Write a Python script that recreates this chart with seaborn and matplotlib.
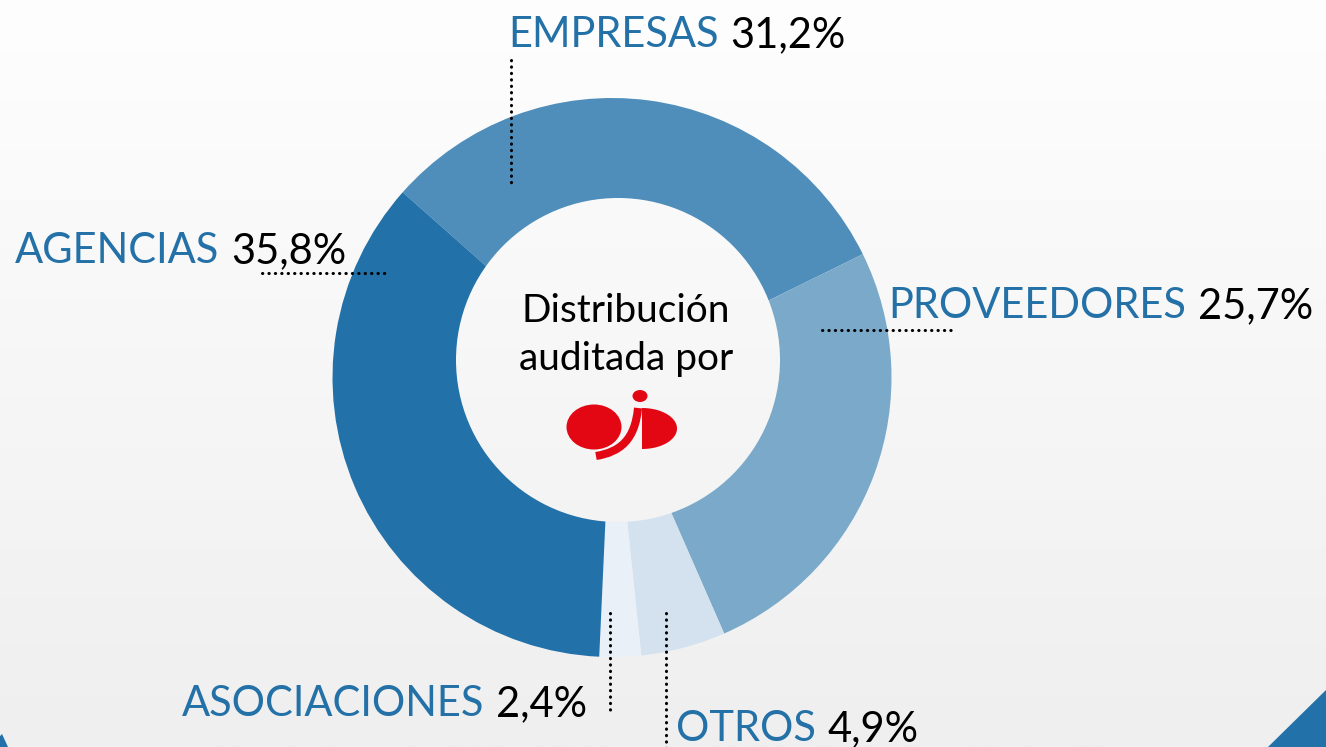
import numpy as np
import matplotlib
matplotlib.use("Agg")
import matplotlib.pyplot as plt
import seaborn as sns
from matplotlib.colors import LinearSegmentedColormap
from matplotlib.patches import Circle, Ellipse, Polygon, PathPatch
from matplotlib.path import Path

# --- Data ---
categorias = ["EMPRESAS", "PROVEEDORES", "OTROS", "ASOCIACIONES", "AGENCIAS"]
valores = [31.2, 25.7, 4.9, 2.4, 35.8]
colores = ["#4f8eba", "#7aa9ca", "#d3e2ee", "#e9f0f7", "#2271a9"]
etiquetas = [f"{v:.1f}".replace(".", ",") + "%" for v in valores]

sns.set_theme(style="white")
plt.rcParams["font.family"] = ["Lato", "DejaVu Sans"]

W, H = 1326, 747
def Y(y):
    # pixel row (from top) -> data y
    return H - y

AZUL = "#2471a8"
ROJO = "#e30613"

fig = plt.figure(figsize=(W / 100, H / 100), dpi=100)
ax = fig.add_axes([0, 0, 1, 1])

# --- Donut ---
ax.pie(valores, colors=colores, startangle=138.5, counterclock=False,
       center=(612, Y(377.5)), radius=279.5,
       wedgeprops=dict(linewidth=0, antialiased=True))
ax.set_xlim(0, W)
ax.set_ylim(0, H)
ax.set_aspect("auto")
ax.axis("off")

# background gradient + the (slightly off-centre) hole showing it
cmap = LinearSegmentedColormap.from_list("bg", ["#fefefe", "#efefef"])
grad = np.linspace(0, 1, 256).reshape(-1, 1)
ax.imshow(grad, extent=[0, W, 0, H], cmap=cmap, aspect="auto", zorder=0)
hole = Circle((618, Y(360)), 162, facecolor="none", edgecolor="none")
ax.add_patch(hole)
im = ax.imshow(grad, extent=[0, W, 0, H], cmap=cmap, aspect="auto", zorder=3)
im.set_clip_path(hole)

# corner triangles
ax.add_patch(Polygon([(1326, Y(690)), (1326, Y(747)), (1268, Y(747))],
                     closed=True, color="#2271a9", lw=0, zorder=2))
ax.add_patch(Polygon([(-10, Y(747)), (2, Y(734)), (8, Y(747))],
                     closed=True, color="#2271a9", lw=0, zorder=2))

# --- Labels ---
lab_pos = {"EMPRESAS": (508, 47), "AGENCIAS": (15, 263),
           "PROVEEDORES": (888, 318), "ASOCIACIONES": (182, 716),
           "OTROS": (676, 741)}
leaders = {"EMPRESAS": [(511, 60), (511, 187)],
           "AGENCIAS": [(262, 273), (390, 273)],
           "PROVEEDORES": [(822, 330), (952, 330)],
           "ASOCIACIONES": [(610, 613), (610, 715)],
           "OTROS": [(666, 613), (666, 750)]}

for cat, pct in zip(categorias, etiquetas):
    x, y = lab_pos[cat]
    t = ax.text(x, Y(y), cat, color=AZUL, fontsize=30, ha="left",
                va="baseline", zorder=5)
    ax.annotate(pct, xy=(1, 0), xycoords=t, xytext=(8.5, 0),
                textcoords="offset points", color="black", fontsize=30,
                ha="left", va="bottom", zorder=5)
    (x0, y0), (x1, y1) = leaders[cat]
    ax.plot([x0, x1], [Y(y0), Y(y1)], color="black", lw=2.2,
            linestyle=(0, (0.1, 2.0)), dash_capstyle="round", zorder=6)

# --- Centre text + logo ---
ax.text(626, Y(322), "Distribución", fontsize=28, ha="center",
        va="baseline", color="black", zorder=5)
ax.text(626, Y(370), "auditada por", fontsize=28, ha="center",
        va="baseline", color="black", zorder=5)

ax.add_patch(Ellipse((594, Y(427)), 55, 45, color=ROJO, lw=0, zorder=5))
ax.add_patch(Ellipse((640, Y(396)), 15, 12, color=ROJO, lw=0, zorder=5))
jpath = Path([(638, Y(408)), (635, Y(440)), (620, Y(452)), (596, Y(456))],
             [Path.MOVETO, Path.CURVE4, Path.CURVE4, Path.CURVE4])
ax.add_patch(PathPatch(jpath, facecolor="none", edgecolor=ROJO, lw=5.8,
                       capstyle="butt", zorder=5))
t = np.linspace(-np.pi / 2, np.pi / 2, 60)
dx = 642 + 35 * np.cos(t)
dy = 428.5 + 20.5 * np.sin(t)
ax.add_patch(Polygon(np.column_stack([dx, [Y(v) for v in dy]]), closed=True,
                     color=ROJO, lw=0, zorder=5))

fig.savefig("out.png", dpi=100)
